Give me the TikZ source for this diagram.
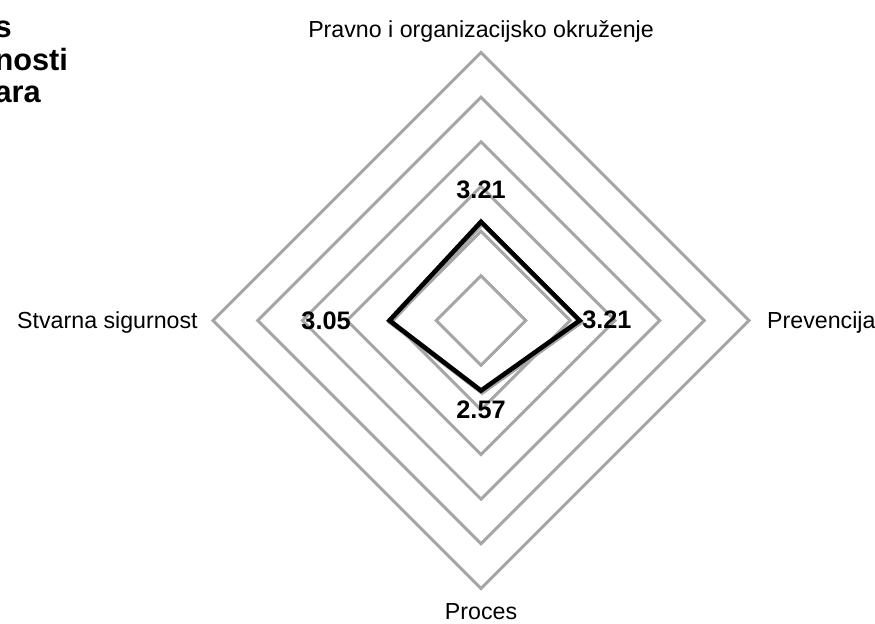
\documentclass[tikz,border=0pt]{standalone}
\usepackage{fontspec}
\setmainfont{Liberation Sans}
\usetikzlibrary{calc}
\definecolor{ringgray}{HTML}{A6A6A6}
\tikzset{
  ring/.style={ringgray, line width=1.7pt, line join=miter},
  series/.style={black, line width=2.6pt, line join=miter},
  shadowseries/.style={ringgray, line width=2.6pt, line join=miter},
  axislabel/.style={font=\fontsize{13.2}{15}\selectfont, inner sep=0},
  valuelabel/.style={font=\fontsize{14.4}{16}\selectfont\bfseries, inner sep=0},
  titlelabel/.style={font=\fontsize{17.5}{18.7}\selectfont\bfseries, inner sep=0, align=left},
}

\begin{document}
\begin{tikzpicture}[x=0.8933cm, y=0.8933cm]
\useasboundingbox (-10.77,-6.773) rectangle (8.821,7.176);
\clip (-10.77,-6.773) rectangle (8.821,7.176);
% rings
\foreach \r in {1,...,6}
  \draw[ring] (0,\r) -- (\r,0) -- (0,-\r) -- (-\r,0) -- cycle;
% data points, value minus one
\coordinate (pravno) at (0,2.21);
\coordinate (prevencija) at (2.21,0);
\coordinate (proces) at (0,-1.57);
\coordinate (stvarna) at (-2.05,0);
\draw[shadowseries, transform canvas={xshift=0.6pt, yshift=-1pt}] (pravno) -- (prevencija) -- (proces) -- (stvarna) -- cycle;
\draw[series] (pravno) -- (prevencija) -- (proces) -- (stvarna) -- cycle;
% value labels
\node[valuelabel, anchor=base] (pravnoval) at (0,2.74) {3.21};
\node[valuelabel, anchor=base west] (prevencijaval) at (2.26,-0.17) {3.21};
\node[valuelabel, anchor=base] (procesval) at (0,-2.205) {2.57};
\node[valuelabel, anchor=base east] (stvarnaval) at (-2.91,-0.2) {3.05};
% axis labels
\node[axislabel, anchor=base] (pravnolbl) at (0,6.347) {Pravno i organizacijsko okruženje};
\node[axislabel, anchor=base west] (prevencijalbl) at (6.40,-0.17) {Prevencija};
\node[axislabel, anchor=base] (proceslbl) at (0,-6.70) {Proces};
\node[axislabel, anchor=base east] (stvarnalbl) at (-6.335,-0.17) {Stvarna sigurnost};
% title, cut at the left edge
\node[titlelabel, anchor=base west] (title) at (-10.9,4.87) {s\\nosti\\ara};
\end{tikzpicture}
\end{document}
